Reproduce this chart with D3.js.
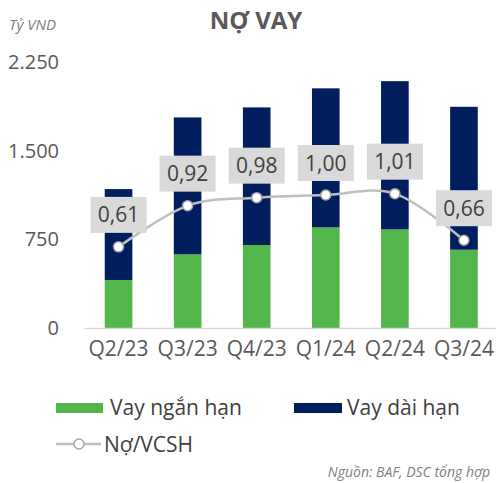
<!DOCTYPE html>
<html>
<head>
<meta charset="utf-8">
<script src="https://cdn.jsdelivr.net/npm/d3@7"></script>
<style>
  body { margin: 0; background: #fff; }
  text { font-family: "Open Sans", "Noto Sans", sans-serif; }
</style>
</head>
<body>
<div id="wrapper"></div>
<script>
const quarters = ["Q2/23", "Q3/23", "Q4/23", "Q1/24", "Q2/24", "Q3/24"]
const shortTerm = [406, 623, 702, 851, 834, 662]
const longTerm = [769, 1158, 1164, 1176, 1254, 1209]
const debtToEquity = [0.61, 0.92, 0.98, 1.00, 1.01, 0.66]
const yTicks = [0, 750, 1500, 2250]

const width = 496
const height = 483
const dimensions = {
  left: 84, right: 498.5, top: 62, bottom: 328,
}

const svg = d3.select("#wrapper")
  .append("svg")
  .attr("width", width)
  .attr("height", height)

const x = d3.scaleBand()
  .domain(quarters)
  .range([dimensions.left, dimensions.right])
  .paddingInner(0.6)
  .paddingOuter(0.3)

const y = d3.scaleLinear()
  .domain([0, 2250])
  .range([dimensions.bottom, dimensions.top])

const y2 = d3.scaleLinear()
  .domain([0, 2])
  .range([dimensions.bottom, dimensions.top])

// title + unit
svg.append("text")
  .attr("x", 256).attr("y", 29)
  .attr("text-anchor", "middle")
  .attr("font-weight", "bold")
  .attr("font-size", 24)
  .attr("fill", "#595959")
  .text("NỢ VAY")

svg.append("text")
  .attr("x", 9).attr("y", 30)
  .attr("font-style", "italic")
  .attr("font-size", 15)
  .attr("fill", "#808080")
  .text("Tỷ VND")

// y axis labels
const yAxis = svg.append("g")
  .attr("transform", `translate(${dimensions.left - 22},0)`)
  .call(d3.axisLeft(y).tickValues(yTicks).tickSize(0)
    .tickFormat(d => d3.format(",")(d).replace(/,/g, ".")))
yAxis.select(".domain").remove()
yAxis.selectAll("text")
  .attr("font-size", 20)
  .attr("fill", "#595959")
  .attr("font-family", "Open Sans")

// stacked bars
const rows = quarters.map((q, i) => ({ q, short: shortTerm[i], long: longTerm[i] }))
const stack = d3.stack().keys(["short", "long"])(rows)
const colors = { short: "#52B64A", long: "#001E5E" }

svg.append("g").selectAll("g")
  .data(stack)
  .join("g")
  .attr("fill", d => colors[d.key])
  .selectAll("rect")
  .data(d => d)
  .join("rect")
  .attr("x", d => x(d.data.q))
  .attr("width", x.bandwidth())
  .attr("y", d => y(d[1]))
  .attr("height", d => y(d[0]) - y(d[1]))

// x axis
const xAxis = svg.append("g")
  .attr("transform", `translate(0,${dimensions.bottom})`)
  .call(d3.axisBottom(x).tickSize(0).tickPadding(13))
xAxis.select(".domain").attr("stroke", "#D9D9D9").attr("stroke-width", 1.5)
xAxis.selectAll("text")
  .attr("font-size", 21)
  .attr("fill", "#595959")
  .attr("font-family", "Open Sans")

// ratio line
const cx = q => x(q) + x.bandwidth() / 2
const line = d3.line()
  .x((d, i) => cx(quarters[i]))
  .y(d => y2(d))
  .curve(d3.curveCardinal.tension(0))

svg.append("path")
  .attr("d", line(debtToEquity))
  .attr("fill", "none")
  .attr("stroke", "#BFBFBF")
  .attr("stroke-width", 2.5)

const labels = svg.append("g").selectAll("g")
  .data(debtToEquity)
  .join("g")
  .attr("transform", (d, i) => `translate(${cx(quarters[i])},${y2(d) - 32})`)

labels.append("rect")
  .attr("x", -28).attr("y", -18)
  .attr("width", 56).attr("height", 36)
  .attr("fill", "#D9D9D9")

labels.append("text")
  .attr("text-anchor", "middle")
  .attr("y", 7.5)
  .attr("font-size", 21)
  .attr("fill", "#404040")
  .text(d => d3.format(".2f")(d).replace(".", ","))

svg.append("g").selectAll("circle")
  .data(debtToEquity)
  .join("circle")
  .attr("cx", (d, i) => cx(quarters[i]))
  .attr("cy", d => y2(d))
  .attr("r", 5)
  .attr("fill", "#fff")
  .attr("stroke", "#A6A6A6")
  .attr("stroke-width", 1.5)

// legend
const legend = svg.append("g")
legend.append("rect").attr("x", 56).attr("y", 403).attr("width", 47).attr("height", 10).attr("fill", colors.short)
legend.append("text").attr("x", 110).attr("y", 415).attr("font-size", 21).attr("fill", "#404040").text("Vay ngắn hạn")
legend.append("rect").attr("x", 294).attr("y", 403).attr("width", 48).attr("height", 10).attr("fill", colors.long)
legend.append("text").attr("x", 347).attr("y", 415).attr("font-size", 21).attr("fill", "#404040").text("Vay dài hạn")
legend.append("line").attr("x1", 56).attr("x2", 101).attr("y1", 444).attr("y2", 444).attr("stroke", "#BFBFBF").attr("stroke-width", 2.5)
legend.append("circle").attr("cx", 79).attr("cy", 444).attr("r", 5).attr("fill", "#fff").attr("stroke", "#A6A6A6").attr("stroke-width", 1.5)
legend.append("text").attr("x", 104).attr("y", 452).attr("font-size", 21).attr("fill", "#404040").text("Nợ/VCSH")

svg.append("text")
  .attr("x", 490).attr("y", 477)
  .attr("text-anchor", "end")
  .attr("font-style", "italic")
  .attr("font-size", 14)
  .attr("fill", "#808080")
  .text("Nguồn: BAF, DSC tổng hợp")
</script>
</body>
</html>
